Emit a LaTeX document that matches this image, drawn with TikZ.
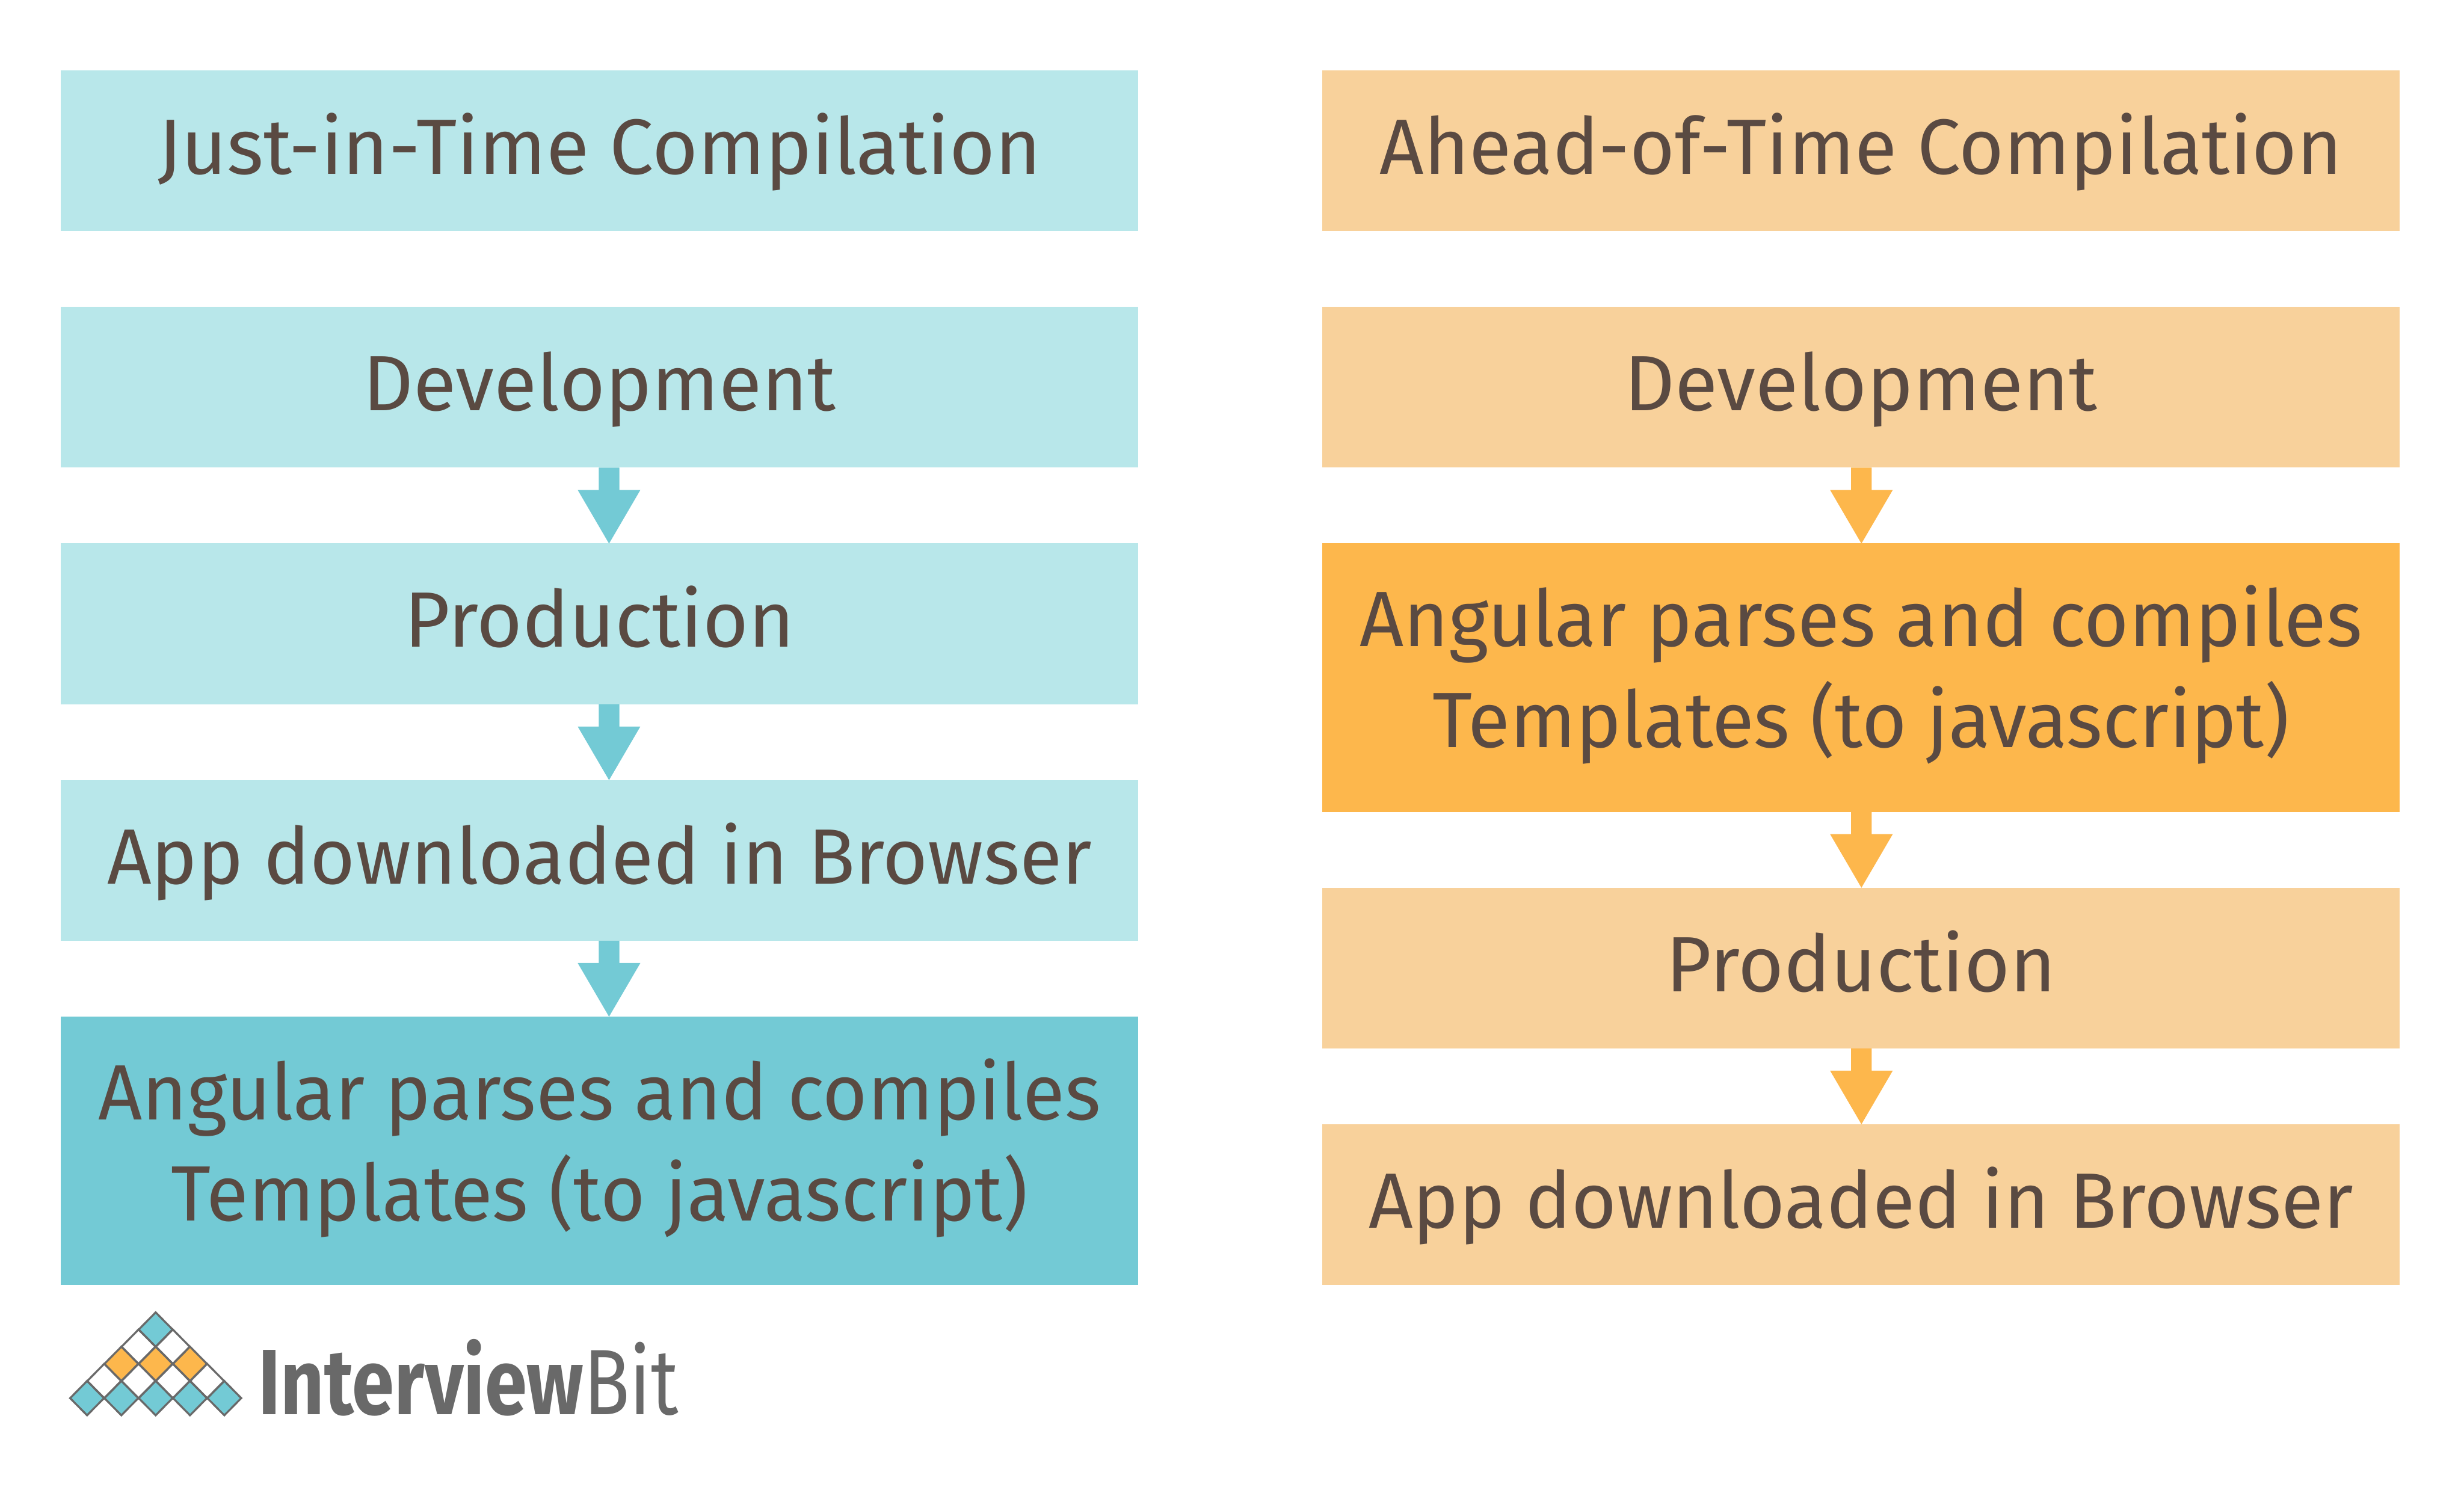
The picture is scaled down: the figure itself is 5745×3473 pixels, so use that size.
\documentclass[tikz,border=0pt]{standalone}
\usepackage{graphicx}
\usepackage{fontspec}
\setmainfont{Fira Sans}
\definecolor{lt}{HTML}{B8E7EA}
\definecolor{dt}{HTML}{73CAD5}
\definecolor{lo}{HTML}{F8D19B}
\definecolor{do}{HTML}{FDB74C}
\definecolor{tx}{HTML}{5A4A42}
\definecolor{lg}{HTML}{696969}
\tikzset{x=0.01cm,y=-0.01cm,
 box/.style={font=\fontsize{52}{67}\selectfont,text=tx,align=center,anchor=center,inner sep=0pt},
 tarrow/.style={fill=dt},
 oarrow/.style={fill=do},
 dia/.style={draw=lg,line width=1.3pt,line join=miter}}
\newcommand{\sq}[2]{\scalebox{#1}[1]{#2}}
\newcommand{\boxat}[7]{%
 \fill[#6] (#2,#3) rectangle (#4,#5);
 \node[box] (#1) at ({(#2+#4)/2},{(#3+#5)/2+7.5}) {#7};}
\newcommand{\boxtwo}[7]{%
 \fill[#6] (#2,#3) rectangle (#4,#5);
 \node[box] (#1) at ({(#2+#4)/2},{(#3+#5)/2-2}) {#7};}
\newcommand{\arr}[3]{% x, top, style
 \fill[#3] (#1-24,#2) -- (#1+24,#2) -- (#1+24,#2+52) -- (#1+73,#2+52) -- (#1,#2+177) -- (#1-73,#2+52) -- (#1-24,#2+52) -- cycle;}
\newcommand{\dm}[3]{% cx, cy, fill
 \filldraw[dia,fill=#3] (#1,#2-40) -- (#1+39.5,#2) -- (#1,#2+40) -- (#1-39.5,#2) -- cycle;}
\begin{document}
\begin{tikzpicture}
\useasboundingbox (0,0) rectangle (5745,3473);
\fill[white] (0,0) rectangle (5745,3473);
\boxat{a1}{141.5}{164}{2654}{539}{lt}{\strut Just-in-Time Compilation}
\boxat{a2}{141.5}{715.5}{2654}{1090.5}{lt}{\strut Development}
\boxat{a3}{141.5}{1267}{2654}{1642}{lt}{\strut Production}
\boxat{a4}{141.5}{1818.5}{2654}{2193.5}{lt}{\strut\sq{0.987}{App downloaded in Browser}}
\boxtwo{a5}{141.5}{2370}{2654}{2996}{dt}{\strut\sq{0.98}{Angular parses and compiles}\\\strut\sq{0.98}{Templates (to javascript)}}
\boxat{b1}{3083}{164}{5595}{539}{lo}{\strut\sq{0.985}{Ahead-of-Time Compilation}}
\boxat{b2}{3083}{715.5}{5595}{1090.5}{lo}{\strut Development}
\boxtwo{b3}{3083}{1267}{5595}{1893}{do}{\strut\sq{0.98}{Angular parses and compiles}\\\strut\sq{0.98}{Templates (to javascript)}}
\boxat{b4}{3083}{2069.5}{5595}{2444.5}{lo}{\strut Production}
\boxat{b5}{3083}{2621}{5595}{2996}{lo}{\strut\sq{0.987}{App downloaded in Browser}}
\arr{1420}{1090.5}{tarrow}
\arr{1420}{1642}{tarrow}
\arr{1420}{2193.5}{tarrow}
\arr{4340}{1090.5}{oarrow}
\arr{4340}{1893}{oarrow}
\arr{4340}{2444.5}{oarrow}
\foreach \c/\r/\f in {0/0/dt,-1/1/white,1/1/white,-2/2/do,0/2/do,2/2/do,-3/3/white,-1/3/white,1/3/white,3/3/white,-4/4/dt,-2/4/dt,0/4/dt,2/4/dt,4/4/dt}
 {\dm{363+40*\c}{3100+40*\r}{\f}}
\node[font=\fontsize{47}{50}\selectfont,text=lg,anchor=base west,inner sep=0pt] (logo) at (602,3298) {\scalebox{1.07}[1.31]{\bfseries Interview\mdseries Bit}};
\end{tikzpicture}
\end{document}
